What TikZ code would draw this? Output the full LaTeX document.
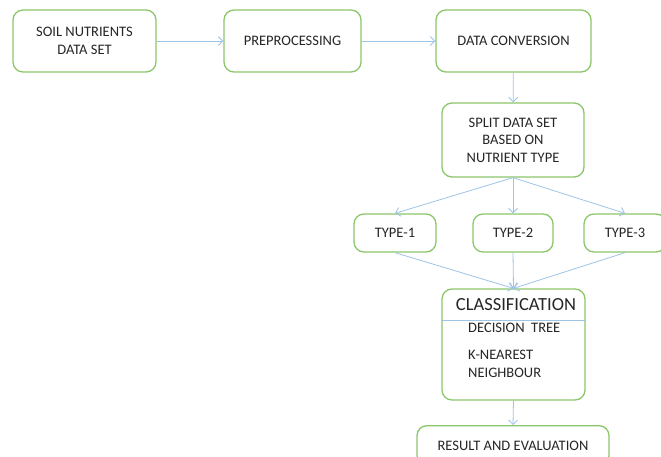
\documentclass[tikz,border=0pt]{standalone}
\usepackage{fontspec}
\setmainfont{Carlito}
\usetikzlibrary{arrows.meta}
\definecolor{boxgreen}{HTML}{8CC66A}
\definecolor{arrowblue}{HTML}{9DC3E6}
\definecolor{txt}{HTML}{262626}
\tikzset{
  box/.style={draw=boxgreen, line width=1.3pt, rounded corners=10pt, fill=white,
    align=center, text=txt, font=\fontsize{14.5}{17.5}\selectfont, inner sep=0pt},
  conn/.style={draw=arrowblue, line width=0.8pt, -{Straight Barb[length=4.5pt,width=9pt]}},
  plain/.style={text=txt, inner sep=0pt, font=\fontsize{14.5}{17.5}\selectfont}
}
\begin{document}
\begin{tikzpicture}[x=1pt,y=-1pt]
\useasboundingbox (0,0) rectangle (661,457);
\clip (0,0) rectangle (661,457);
\node[box, minimum width=143pt, minimum height=62pt] (soil) at (84.5,41) {SOIL NUTRIENTS\\DATA SET};
\node[box, minimum width=137pt, minimum height=62pt] (pre) at (292.5,41) {PREPROCESSING};
\node[box, minimum width=155pt, minimum height=62pt] (conv) at (513.5,41) {DATA CONVERSION};
\node[box, minimum width=142pt, minimum height=74pt] (split) at (513,140) {SPLIT DATA SET\\BASED ON\\NUTRIENT TYPE};
\node[box, minimum width=82pt, minimum height=38pt] (t1) at (395,233) {TYPE-1};
\node[box, minimum width=80pt, minimum height=38pt] (t2) at (513,233) {TYPE-2};
\node[box, minimum width=82pt, minimum height=38pt] (t3) at (625,233) {TYPE-3};
\node[box, minimum width=143pt, minimum height=111pt] (cls) at (513.5,344.5) {};
\node[box, minimum width=192pt, minimum height=40pt, anchor=north] (res) at (513,425) {RESULT AND EVALUATION};
\coordinate (dl) at (cls.west |- 0,320);
\coordinate (dr) at (cls.east |- 0,320);
\draw[arrowblue, line width=0.8pt] (dl) -- (dr);
\node[plain, font=\fontsize{18.5}{22}\selectfont] (clst) at (516,305) {CLASSIFICATION};
\node[plain, anchor=west] (dt) at (468,328) {DECISION\ \ TREE};
\node[plain, anchor=north west, align=left, font=\fontsize{14.5}{18}\selectfont] (knn) at (468,350) {K-NEAREST\\NEIGHBOUR};
\draw[conn] (soil) -- (pre);
\draw[conn] (pre) -- (conv);
\draw[conn] (conv) -- (split);
\draw[conn] (split.south) -- (t1.north);
\draw[conn] (split.south) -- (t2.north);
\draw[conn] (split.south) -- (t3.north);
\draw[conn] (t1.south) -- (cls.north);
\draw[conn] (t2.south) -- (cls.north);
\draw[conn] (t3.south) -- (cls.north);
\draw[conn] (cls.south) -- (res.north);
\end{tikzpicture}
\end{document}
